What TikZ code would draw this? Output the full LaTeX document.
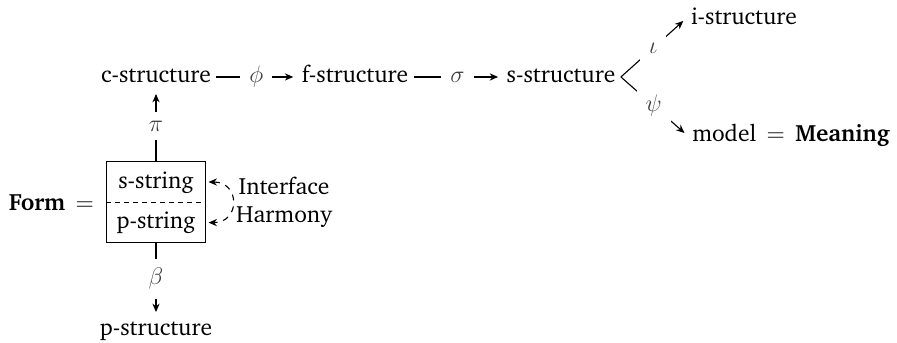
\documentclass[tikz,border=0pt]{standalone}
\usepackage[T1]{fontenc}
\usepackage{charter}
\usetikzlibrary{arrows.meta,positioning}

\begin{document}
\begin{tikzpicture}[x=0.5pt, y=-0.5pt, font=\fontsize{11.75}{14}\selectfont, line width=0.55pt,
  txt/.style={anchor=base, inner sep=2.5pt, text height=1.5ex, text depth=.25ex},
  lbl/.style={fill=white, inner sep=4.5pt, text=black!75},
  arr/.style={-{Stealth[length=4.2pt, width=3.6pt]}, shorten >=1.5pt},
  half/.style={minimum width=49pt, minimum height=19.75pt, inner sep=0pt, text height=1.5ex, text depth=.25ex}]
\useasboundingbox (0,0) rectangle (897,342);
% the structures
\node[txt] (c) at (156,83) {c-structure};
\node[txt] (f) at (355,83) {f-structure};
\node[txt] (s) at (561,83) {s-structure};
\node[txt] (i) at (744,25) {i-structure};
\node[txt] (m) at (791,141) {model\ \,$=$\ \,\textbf{Meaning}};
\node[txt] (p) at (156,335) {p-structure};
% form box
\node[half] (ss) at (156,182) {s-string};
\node[half, below=0pt of ss] (ps) {p-string};
\draw (ss.north west) rectangle (ps.south east);
\draw[dash pattern=on 2.5pt off 2pt] (ss.south west) -- (ss.south east);
\node[left=6pt of ss.south west, inner sep=0pt] (form) {\textbf{Form}\ \,$=$};
% projections
\draw[arr] (c) -- node[lbl] {$\phi$} (f);
\draw[arr] (f) -- node[lbl] {$\sigma$} (s);
\draw[arr] (s.east) -- node[lbl] {$\iota$} (i.west);
\draw[arr] (s.east) -- node[lbl] {$\psi$} (m.west);
\draw[arr] (ss) -- node[lbl] {$\pi$} (c);
\draw[arr] (ps) -- node[lbl] {$\beta$} (p);
\draw[dashed, {Stealth[length=4.2pt, width=3.6pt]}-{Stealth[length=4.2pt, width=3.6pt]}, shorten <=1.5pt, shorten >=1.5pt]
  (ss.east) to[out=0, in=0, looseness=2.2] node[right, align=center, inner sep=2pt] {Interface\\Harmony} (ps.east);
\end{tikzpicture}
\end{document}
